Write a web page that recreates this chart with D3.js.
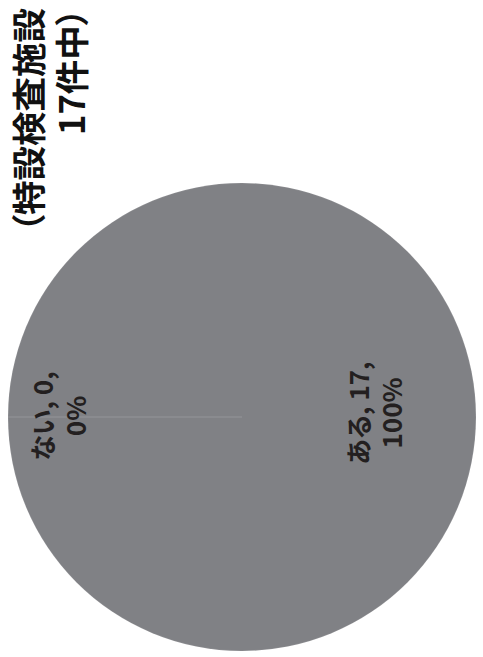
<!DOCTYPE html>
<html>
<head>
<meta charset="utf-8">
<script src="https://cdn.jsdelivr.net/npm/d3@7/dist/d3.min.js"></script>
<style>
  html, body { margin: 0; padding: 0; background: #fff; }
  svg { display: block; }
  text { font-family: "Noto Sans CJK JP", "Noto Sans", sans-serif; font-weight: 700; font-feature-settings: "palt"; }
</style>
</head>
<body>
<script>
// Inspection facilities with / without the item
const categories = ["ある", "ない"];
const values = [17, 0];
const titleLines = ["（特設検査施設", "17件中）"];

const W = 483, H = 657;
// The chart is laid out in a landscape frame (H wide, W tall) and turned a quarter turn.

const svg = d3.select("body").append("svg")
  .attr("width", W).attr("height", H);

const chart = svg.append("g")
  .attr("transform", `translate(0,${H}) rotate(-90)`);

const cx = 240, cy = 242, R = 234;
const total = d3.sum(values);

const pie = d3.pie().sort(null).value(d => d.value).startAngle(0).endAngle(2 * Math.PI);
const arcs = pie(categories.map((c, i) => ({ cat: c, value: values[i] })));
const arc = d3.arc().innerRadius(0).outerRadius(R);

const pieG = chart.append("g").attr("transform", `translate(${cx},${cy})`);

pieG.selectAll("path.slice")
  .data(arcs)
  .join("path")
  .attr("class", "slice")
  .attr("d", arc)
  .attr("fill", "#808185")
  .attr("stroke", "#ffffff")
  .attr("stroke-opacity", 0.09)
  .attr("stroke-width", 1);

// Data labels: "category, value," / "percent"
const labelR = d => (d.data.value === 0 ? 0.737 : 0.613) * R;
const pct = d3.format(".0%");

const labels = pieG.selectAll("text.lbl")
  .data(arcs)
  .join("text")
  .attr("class", "lbl")
  .attr("text-anchor", "middle")
  .attr("font-size", 26)
  .attr("fill", "#231f20")
  .attr("transform", d => {
    const a = (d.startAngle + d.endAngle) / 2;
    const r = labelR(d);
    const x = Math.sin(a) * r + (d.data.value === 0 ? 1 : 4);
    const y = -Math.cos(a) * r;
    return `translate(${x},${y})`;
  });

labels.append("tspan")
  .attr("x", 0).attr("y", -16.5)
  .text(d => `${d.data.cat}, ${d.data.value},`);
labels.append("tspan")
  .attr("x", 0).attr("y", 16.5)
  .text(d => pct(total ? d.data.value / total : 0));

// Title, right-aligned on two lines
const title = chart.append("text")
  .attr("text-anchor", "end")
  .attr("font-size", 34.5)
  .attr("fill", "#111");
title.selectAll("tspan")
  .data(titleLines)
  .join("tspan")
  .attr("x", 649)
  .attr("y", (d, i) => 41.5 + i * 43)
  .text(d => d);
</script>
</body>
</html>
